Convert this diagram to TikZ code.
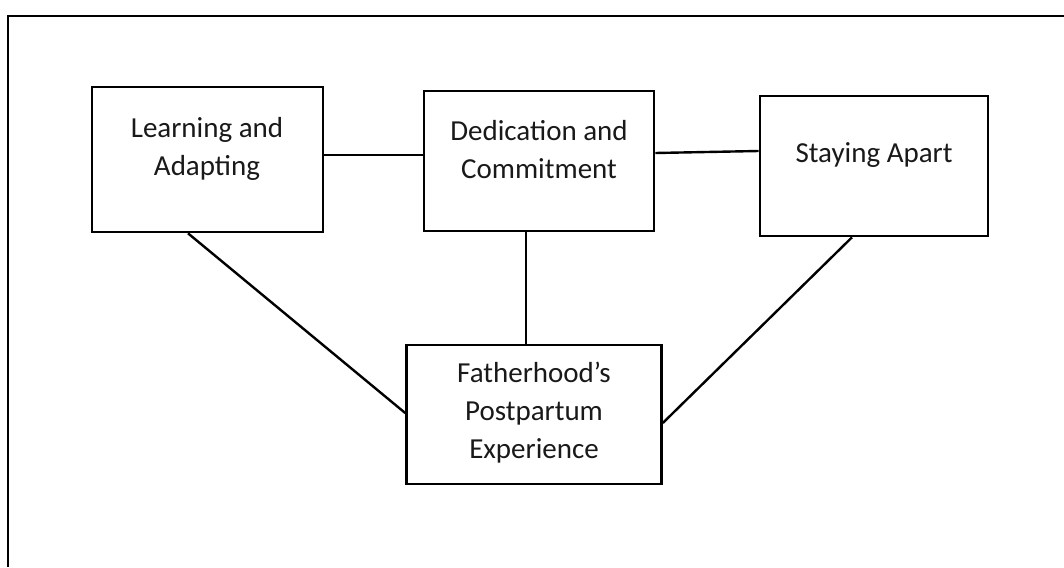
\documentclass[tikz,border=0pt]{standalone}
\usepackage{fontspec}
\setmainfont{Carlito}
\usetikzlibrary{calc}
\begin{document}
\begin{tikzpicture}[x=1pt,y=-1pt,
  box/.style={draw, line width=2.6pt, inner sep=0pt},
  lbl/.style={font=\fontsize{29}{38}\selectfont, align=center, text=black!90, inner sep=0pt},
  conn/.style={line width=2.4pt}]
\useasboundingbox (0,0) rectangle (1064,567);
\draw[line width=2.4pt] (1064,16) -- (8,16) -- (8,567);

\node[box, minimum width=231pt, minimum height=145pt] (learn) at (207.5,159.5) {};
\node[box, minimum width=230pt, minimum height=140pt] (dedic) at (539,161) {};
\node[box, minimum width=228pt, minimum height=140pt] (stay) at (874,166) {};
\node[box, minimum width=255pt, minimum height=139pt] (father) at (534,414.5) {};

\node[lbl] (tlearn) at (207,149) {Learning and\\Adapting};
\node[lbl] (tdedic) at (539,150) {Dedication and\\Commitment};
\node[lbl] (tstay) at (874,155) {Staying Apart};
\node[lbl] (tfather) at (534,413) {Fatherhood’s\\Postpartum\\Experience};

\draw[conn] ($(learn.east)+(0,-4.5)$) -- ($(dedic.west)+(0,-6)$);
\draw[conn] ($(dedic.east)+(0,-8)$) -- ($(stay.west)+(0,-15)$);
\draw[conn] ($(dedic.south)+(-13.3,0)$) -- ($(father.north)+(-8.3,0)$);
\draw[conn] ($(learn.south)+(-19.5,0)$) -- ($(father.west)+(0,-1.5)$);
\draw[conn] ($(stay.south)+(-22,0)$) -- ($(father.east)+(0,8.5)$);
\end{tikzpicture}
\end{document}
